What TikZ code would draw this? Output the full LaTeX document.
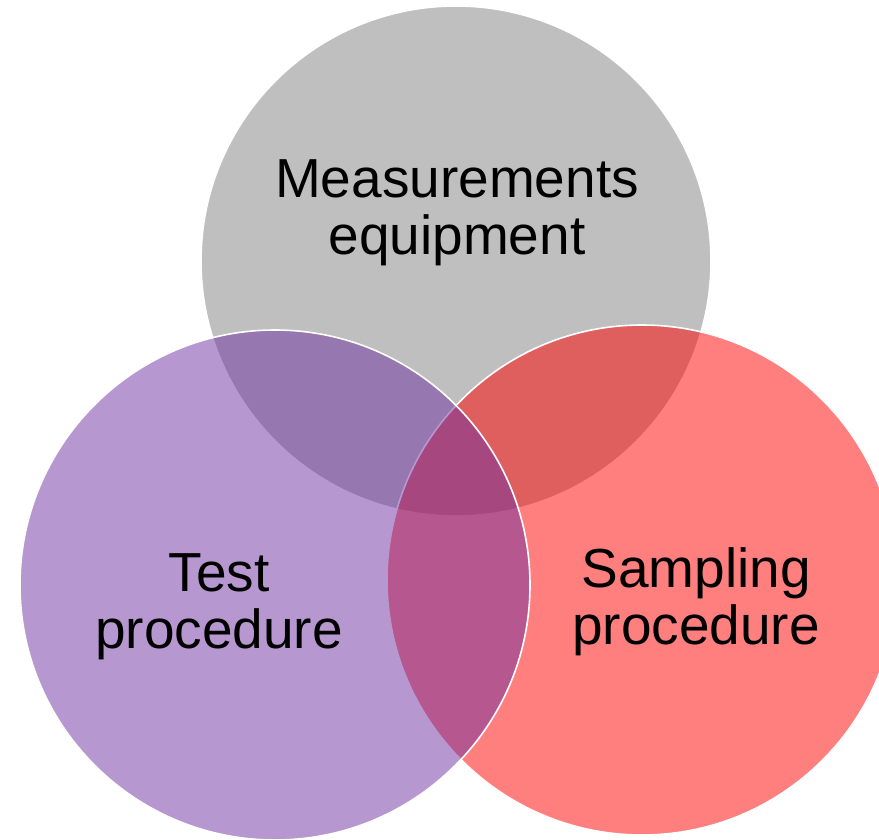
\documentclass[tikz,border=0pt]{standalone}
\usepackage{fontspec}
\setmainfont{Liberation Sans}
\definecolor{ringgray}{HTML}{BFBFBF}
\definecolor{ringred}{HTML}{FF0000}
\definecolor{ringpurple}{HTML}{7030A0}
\begin{document}
\begin{tikzpicture}[x=1pt,y=-1pt,
  ring/.style={circle, minimum size=510pt, inner sep=0pt, draw=white, line width=1.6pt},
  label/.style={font=\fontsize{55}{57}\selectfont, align=center, text=black, inner sep=0pt}]
\useasboundingbox (0,0) rectangle (879,839);
\clip (0,0) rectangle (879,839);
% the three overlapping sets, drawn back to front
\node[ring, fill=ringgray] (equip) at (456,261) {};
\node[ring, fill=ringred, fill opacity=0.5] (sampling) at (642,580) {};
\node[ring, fill=ringpurple, fill opacity=0.5] (test) at (275,585) {};
% set labels
\node[label] (equiplabel) at (457,213) {Measurements\\equipment};
\node[label] (testlabel) at (219,607) {Test\\procedure};
\node[label] (samplinglabel) at (696,602) {Sampling\\procedure};
\end{tikzpicture}
\end{document}
